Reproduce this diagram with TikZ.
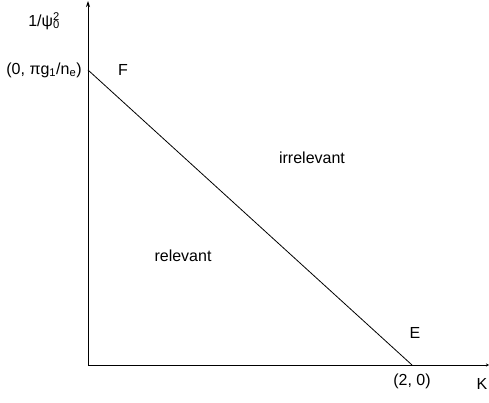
\documentclass[tikz,border=0pt]{standalone}
\usepackage{fontspec}
\setmainfont{Liberation Sans}
\usetikzlibrary{arrows.meta}
\begin{document}
\begin{tikzpicture}[x=1pt,y=-1pt,
  lbl/.style={inner sep=0pt,font=\fontsize{16}{19}\selectfont},
  axis/.style={line width=0.9pt,-{Stealth[length=6pt,width=4pt]}},
  curve/.style={line width=0.8pt}]
\useasboundingbox (0,0) rectangle (489,403);
\coordinate (O) at (88,365);
\coordinate (Ytop) at (88,1);
\coordinate (Xend) at (489,365);
\coordinate (Fpt) at (88,70);
\coordinate (Ept) at (412,365);
\draw[axis] (O) -- (Ytop);
\draw[line width=0.9pt,-{Stealth[length=3pt,width=3pt]}] (O) -- (Xend);
\draw[curve] (Fpt) -- (Ept);
\node[lbl] (ylab) at (44,21) {1/ψ\rlap{\textsuperscript{2}}\textsubscript{0}};
\node[lbl] (yint) at (44,70) {(0, πg\textsubscript{1}/n\textsubscript{e})};
\node[lbl] (F) at (123,70) {F};
\node[lbl] (irr) at (312,158) {irrelevant};
\node[lbl] (rel) at (183,256) {relevant};
\node[lbl] (E) at (415,333) {E};
\node[lbl] (xint) at (412,381) {(2, 0)};
\node[lbl] (K) at (482,384) {K};
\end{tikzpicture}
\end{document}
